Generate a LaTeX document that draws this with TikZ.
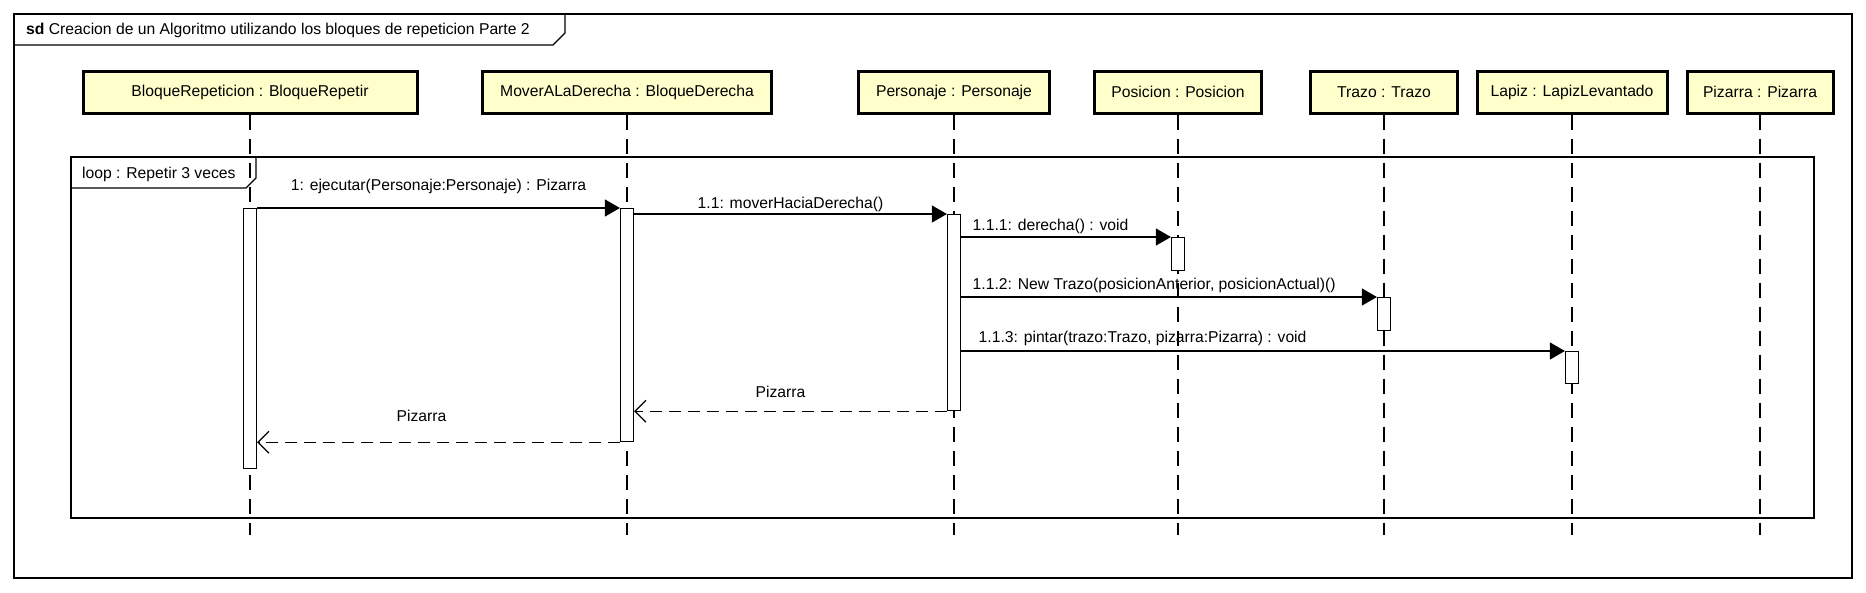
\documentclass[tikz,border=0pt]{standalone}
\usepackage{fontspec}
\setmainfont{Liberation Sans}
\usetikzlibrary{positioning,arrows.meta,calc}
\definecolor{headfill}{RGB}{255,255,204}

\tikzset{
  head/.style={draw, line width=3pt, fill=headfill, minimum height=42pt, inner sep=0pt, font=\fontsize{15.7}{18}\selectfont},
  lifeline/.style={line width=1.2pt, dash pattern=on 15pt off 9pt},
  actbar/.style={draw, fill=white, line width=1.2pt, minimum width=13pt, inner sep=0pt, anchor=north},
  call/.style={line width=1.2pt, -{Triangle[length=15pt,width=17pt]}},
  reply/.style={line width=1.2pt, dash pattern=on 12pt off 7pt, -{Straight Barb[length=11pt,width=22pt]}},
  msglabel/.style={font=\fontsize{15.7}{18}\selectfont, inner sep=0pt},
}

\begin{document}
\begin{tikzpicture}[x=1pt,y=-1pt]
    \useasboundingbox (0,0) rectangle (1866,592);

    % Outer frame
    \draw[line width=1.2pt] (14,14) rectangle (1852,578);
    \draw[line width=1.2pt] (14,45) -- (553,45) -- (565,33) -- (565,14);
    \node[msglabel, anchor=west] (title) at (26,30) {\textbf{sd} Creacion de un Algoritmo utilizando los bloques de repeticion Parte 2};

    % Heads
    \node[head, minimum width=334pt] (bloque) at (250,92) {BloqueRepeticion : BloqueRepetir};
    \node[head, minimum width=289pt] (mover) at (627,92) {MoverALaDerecha : BloqueDerecha};
    \node[head, minimum width=191pt] (personaje) at (954,92) {Personaje : Personaje};
    \node[head, minimum width=167pt] (posicion) at (1178,92) {Posicion : Posicion};
    \node[head, minimum width=147pt] (trazo) at (1384,92) {Trazo : Trazo};
    \node[head, minimum width=190pt] (lapiz) at (1572,92) {Lapiz : LapizLevantado};
    \node[head, minimum width=146pt] (pizarra) at (1760,92) {Pizarra : Pizarra};

    % Lifelines
    \coordinate (bottom) at (0,535);
    \foreach \n in {bloque,mover,personaje,posicion,trazo,lapiz,pizarra}
        \draw[lifeline] (\n.south) -- (\n.south |- bottom);

    % Loop fragment
    \draw[line width=1.2pt] (71,157) rectangle (1814,518);
    \draw[line width=1.2pt] (71,188) -- (246,188) -- (256,178) -- (256,157);
    \node[msglabel, anchor=west] (loop) at (82,174) {loop : Repetir 3 veces};

    % Activations
    \node[actbar, minimum height=260pt] (act1) at (250,208) {};
    \node[actbar, minimum height=233pt] (act2) at (627,208) {};
    \node[actbar, minimum height=196pt] (act3) at (954,214) {};
    \node[actbar, minimum height=33pt] (act4) at (1178,237) {};
    \node[actbar, minimum height=33pt] (act5) at (1384,297) {};
    \node[actbar, minimum height=32pt] (act6) at (1572,351) {};

    % Messages
    \draw[call] (act1.north east) -- (act2.north west)
        node[msglabel, midway, above=13.5pt] {1: ejecutar(Personaje:Personaje) : Pizarra};
    \draw[call] (act2.east |- act3.north) -- (act3.north west)
        node[msglabel, midway, above=2pt] {1.1: moverHaciaDerecha()};
    \draw[call] (act3.east |- act4.north) -- (act4.north west)
        node[msglabel, pos=0, anchor=south west, xshift=11pt, yshift=2.5pt] {1.1.1: derecha() : void};
    \draw[call] (act3.east |- act5.north) -- (act5.north west)
        node[msglabel, pos=0, anchor=south west, xshift=11pt, yshift=3.5pt] {1.1.2: New Trazo(posicionAnterior, posicionActual)()};
    \draw[call] (act3.east |- act6.north) -- (act6.north west)
        node[msglabel, pos=0, anchor=south west, xshift=17pt, yshift=4.5pt] {1.1.3: pintar(trazo:Trazo, pizarra:Pizarra) : void};

    % Replies
    \draw[reply] (act3.south west) -- (act2.east |- act3.south)
        node[msglabel, midway, above=13pt, xshift=-10pt] {Pizarra};
    \draw[reply] (act2.south west) -- (act1.east |- act2.south)
        node[msglabel, midway, above=20pt, xshift=-17pt] {Pizarra};
\end{tikzpicture}
\end{document}
